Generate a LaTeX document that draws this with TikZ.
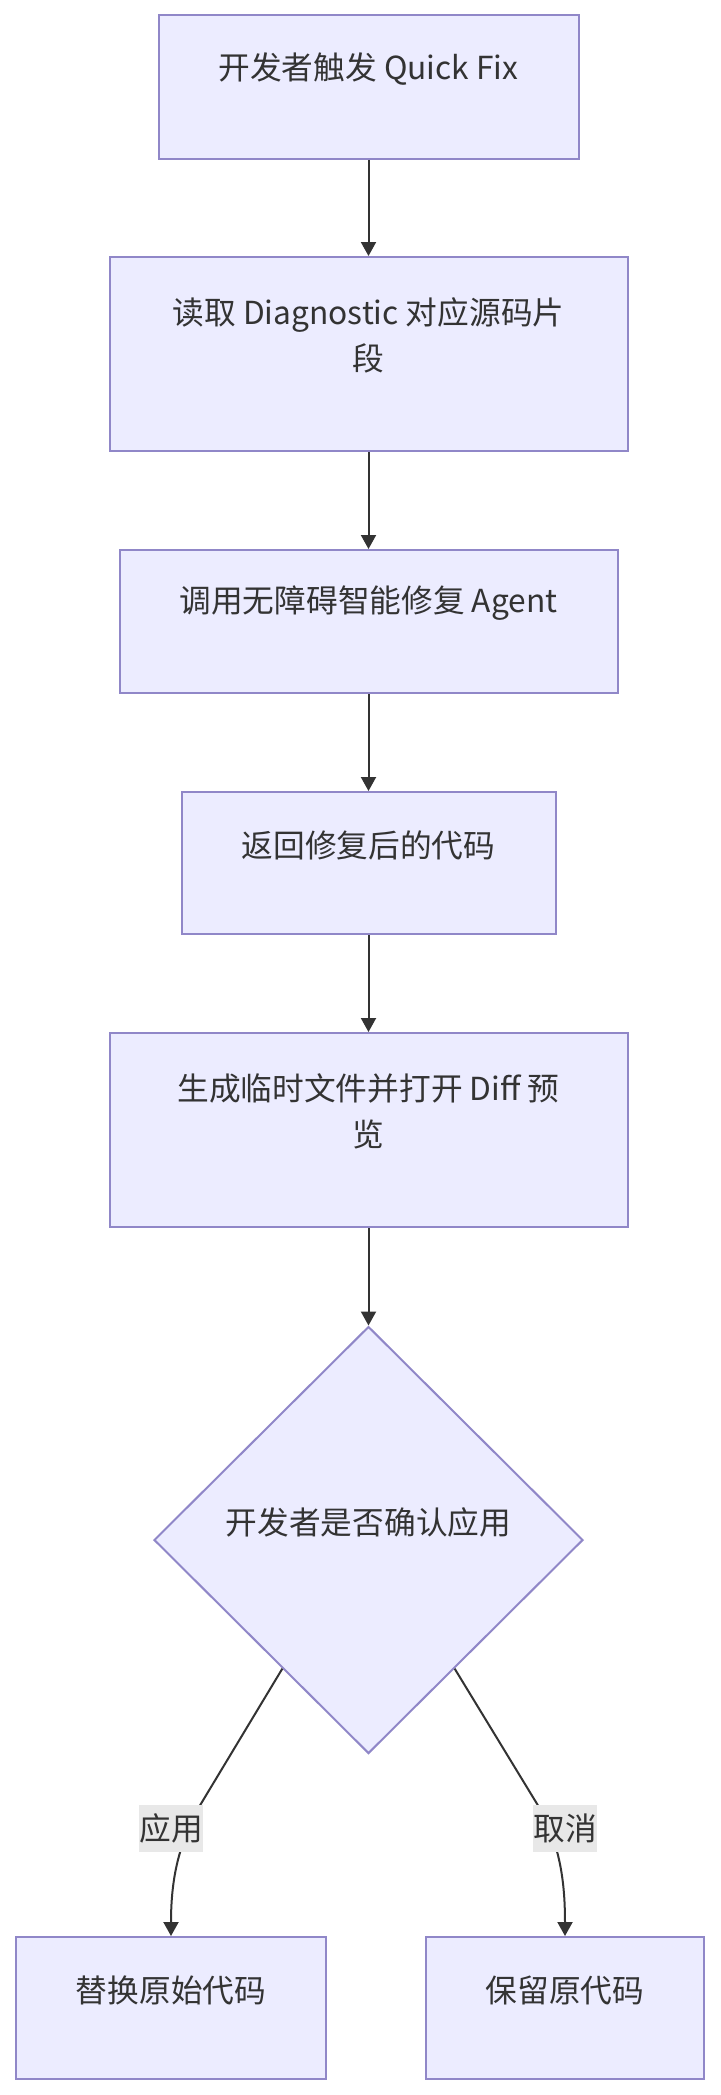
\documentclass[tikz,border=0pt]{standalone}
\usepackage{fontspec}
\newfontfamily\cjk{Noto Sans CJK SC}
\usetikzlibrary{shapes.geometric,arrows.meta,calc}
\definecolor{nodefill}{HTML}{ECECFF}
\definecolor{nodeline}{HTML}{9087C8}
\definecolor{ink}{HTML}{333333}
\definecolor{lblbg}{HTML}{E8E8E8}
\begin{document}
\begin{tikzpicture}[x=1pt,y=-1pt,
  box/.style={rectangle, draw=nodeline, fill=nodefill, line width=2pt, inner sep=0pt},
  decision/.style={diamond, draw=nodeline, fill=nodefill, line width=2pt, inner sep=0pt},
  txt/.style={font=\cjk\fontsize{31.7}{46}\selectfont, text=ink, align=center, inner sep=0pt},
  edge/.style={draw=ink, line width=2pt, -{Triangle[length=14pt,width=15pt]}},
  elbl/.style={fill=lblbg, font=\cjk\fontsize{31.7}{46}\selectfont, text=ink, inner sep=0pt, minimum width=62pt, minimum height=47pt}]
\useasboundingbox (0,0) rectangle (720,2095);
\fill[white] (0,0) rectangle (720,2095);

\node[box, minimum width=420pt, minimum height=144pt] (b1) at (368.5,87) {};
\node[box, minimum width=518pt, minimum height=194pt] (b2) at (368.5,354) {};
\node[box, minimum width=498pt, minimum height=143pt] (b3) at (368.5,621.5) {};
\node[box, minimum width=374pt, minimum height=142pt] (b4) at (368.5,863) {};
\node[box, minimum width=518pt, minimum height=194pt] (b5) at (368.5,1130) {};
\node[decision, minimum width=429pt, minimum height=427pt] (d) at (368.5,1540) {};
\node[box, minimum width=310pt, minimum height=142pt] (b6) at (171,2008) {};
\node[box, minimum width=278pt, minimum height=142pt] (b7) at (565,2008) {};

\node[txt] (t1) at ([yshift=18pt]b1.center) {开发者触发 Quick Fix};
\node[txt] (t2) at ([yshift=19pt]b2.center) {读取 Diagnostic 对应源码片\\段};
\node[txt] (t3) at ([yshift=18pt]b3.center) {调用无障碍智能修复 Agent};
\node[txt] (t4) at ([yshift=18pt]b4.center) {返回修复后的代码};
\node[txt] (t5) at ([yshift=19pt]b5.center) {生成临时文件并打开 Diff 预\\览};
\node[txt] (td) at ([yshift=18pt]d.center) {开发者是否确认应用};
\node[txt] (t6) at ([yshift=18pt]b6.center) {替换原始代码};
\node[txt] (t7) at ([yshift=18pt]b7.center) {保留原代码};

\draw[edge] (b1.south) -- (b2.north);
\draw[edge] (b2.south) -- (b3.north);
\draw[edge] (b3.south) -- (b4.north);
\draw[edge] (b4.south) -- (b5.north);
\draw[edge] (b5.south) -- (d.north);
\draw[edge] ($(d.west)!0.6!(d.south)$) -- (196,1812) .. controls (180,1845) and (171,1875) .. (b6.north);
\draw[edge] ($(d.east)!0.6!(d.south)$) -- (542,1812) .. controls (558,1845) and (565,1875) .. (b7.north);

\node[elbl] (l1) at (171,1828.5) {应用};
\node[elbl] (l2) at (565,1828.5) {取消};
\end{tikzpicture}
\end{document}
